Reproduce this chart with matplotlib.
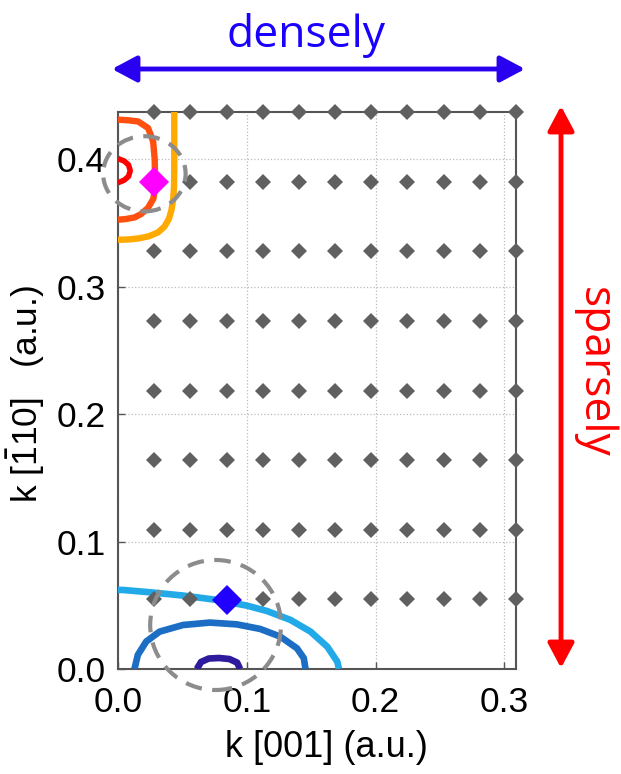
import numpy as np
import matplotlib.pyplot as plt
from matplotlib.patches import Ellipse

## Data
# lattice of k-points (gray diamonds)
kx_step = 0.0281
ky_step = 0.0546
n_kx = 11
n_ky = 8

# highlighted k-points
pt_magenta = (0.0281, 0.382)
pt_blue = (0.0844, 0.0544)

# contour lines near the top-left corner
orange_x = [0.0437, 0.0437, 0.0435, 0.0428, 0.0415, 0.0395, 0.036, 0.031, 0.024, 0.016, 0.008, 0.0]
orange_y = [0.437, 0.390, 0.378, 0.368, 0.360, 0.353, 0.347, 0.3425, 0.3395, 0.3378, 0.337, 0.3367]

redor_x = [0.0, 0.008, 0.0156, 0.0234, 0.0273, 0.0285, 0.0287, 0.0287, 0.0275, 0.0234, 0.018, 0.013, 0.006, 0.0]
redor_y = [0.431, 0.4305, 0.4296, 0.4244, 0.4139, 0.400, 0.390, 0.3776, 0.369, 0.3619, 0.357, 0.3543, 0.353, 0.3525]

red_x = [0.0, 0.0048, 0.0082, 0.0095, 0.0082, 0.0048, 0.0]
red_y = [0.4005, 0.3985, 0.3955, 0.391, 0.3865, 0.3835, 0.3815]

# contour lines near the bottom
lblue_x = [0.0, 0.0036, 0.0245, 0.0505, 0.0766, 0.100, 0.1156, 0.1339, 0.1495, 0.1625, 0.1703, 0.1716]
lblue_y = [0.062, 0.062, 0.0602, 0.0576, 0.0542, 0.0497, 0.0455, 0.0385, 0.0293, 0.0175, 0.0057, 0.0]

mblue_x = [0.0128, 0.0154, 0.0219, 0.0323, 0.0505, 0.0714, 0.0922, 0.1104, 0.126, 0.139, 0.1443, 0.1456]
mblue_y = [0.0, 0.011, 0.0215, 0.0293, 0.0345, 0.0364, 0.035, 0.0314, 0.0254, 0.0162, 0.0084, 0.0]

dblue_x = [0.0612, 0.0645, 0.0705, 0.0785, 0.0865, 0.0925, 0.0948]
dblue_y = [0.0, 0.0055, 0.0082, 0.0086, 0.0078, 0.005, 0.0]

# dashed circles (center x, center y, radius x, radius y)
circ_top = (0.0205, 0.3885, 0.032, 0.0295)
circ_bot = (0.0758, 0.0345, 0.0508, 0.051)

## Figure
plt.rcParams['font.family'] = ['Liberation Sans', 'DejaVu Sans']
fig = plt.figure(figsize=(6.21, 7.74), dpi=100)
ax = fig.add_axes([0.19, 0.1357, 0.641, 0.7196])

line_kw = dict(solid_capstyle='butt', solid_joinstyle='round', zorder=3)
ax.plot(orange_x, orange_y, color='#FFAA00', lw=4.6, **line_kw)
ax.plot(redor_x, redor_y, color='#FF5010', lw=4.6, **line_kw)
ax.plot(red_x, red_y, color='#FF0000', lw=4.0, **line_kw)
ax.plot(lblue_x, lblue_y, color='#22AAE8', lw=4.8, **line_kw)
ax.plot(mblue_x, mblue_y, color='#1C6EC4', lw=4.8, **line_kw)
ax.plot(dblue_x, dblue_y, color='#2D1A9C', lw=4.8, **line_kw)

# gray lattice, skipping the highlighted points
gx, gy = [], []
for i in range(1, n_kx + 1):
    for j in range(1, n_ky + 1):
        if (i == 1 and j == 7) or (i == 3 and j == 1):
            continue
        gx.append(i * kx_step)
        gy.append(j * ky_step)
ax.plot(gx, gy, 'D', color='#606060', ms=8.0, mew=0, clip_on=False, zorder=4)

ax.plot(*pt_magenta, 'D', color='#FF00FF', ms=15.5, mew=0, zorder=5)
ax.plot(*pt_blue, 'D', color='#2200FF', ms=15.5, mew=0, zorder=5)

for cx, cy, rx, ry in [circ_top, circ_bot]:
    e = Ellipse((cx, cy), 2 * rx, 2 * ry, fill=False, ec='#8C8C8C', lw=3.0,
                ls=(0, (4.0, 2.5)), clip_on=False, zorder=6)
    ax.add_patch(e)

ax.set_xlim(0, 0.3091)
ax.set_ylim(0, 0.437)
ax.set_xticks([0, 0.1, 0.2, 0.3])
ax.set_yticks([0, 0.1, 0.2, 0.3, 0.4])
ax.set_xticklabels(['0.0', '0.1', '0.2', '0.3'])
ax.set_yticklabels(['0.0', '0.1', '0.2', '0.3', '0.4'])
ax.tick_params(direction='in', length=5, width=1, colors='#555555', labelsize=25.5,
               labelcolor='black')
ax.tick_params(axis='x', pad=12)
ax.tick_params(axis='y', pad=9)
ax.grid(True, ls=':', color='#BBBBBB', lw=0.9)
for s in ax.spines.values():
    s.set_color('#555555')
    s.set_linewidth(1.5)

# axis labels
fig.text(326 / 621, 1 - 757 / 774, 'k [001] (a.u.)', fontsize=26,
         ha='center', va='baseline')
fig.text(26 / 621, 1 - 394 / 774, r'k [$\bar{\mathregular{1}}$10]   (a.u.)',
         fontsize=25.5, ha='center', va='center', rotation=90)

# arrows and words outside the axes
ax.annotate('', xy=(525 / 621, 1 - 69 / 774), xytext=(112 / 621, 1 - 69 / 774),
            xycoords='figure fraction', textcoords='figure fraction',
            arrowprops=dict(arrowstyle='<|-|>,head_length=1.5,head_width=0.8',
                            color='#2A00F0', lw=3.5, shrinkA=0, shrinkB=0))
fig.text(306 / 621, 1 - 36 / 774, 'densely', color='#1A00FF', fontsize=32,
         family='Open Sans', ha='center', va='center')

ax.annotate('', xy=(561 / 621, 1 - 106 / 774), xytext=(561 / 621, 1 - 668 / 774),
            xycoords='figure fraction', textcoords='figure fraction',
            arrowprops=dict(arrowstyle='<|-|>,head_length=1.5,head_width=0.8',
                            color='#FF0000', lw=3.5, shrinkA=0, shrinkB=0))
fig.text(594 / 621, 1 - 372 / 774, 'sparsely', color='#FF0000', fontsize=32,
         family='Open Sans', ha='center', va='center', rotation=-90)

fig.savefig('out.png', dpi=100)
